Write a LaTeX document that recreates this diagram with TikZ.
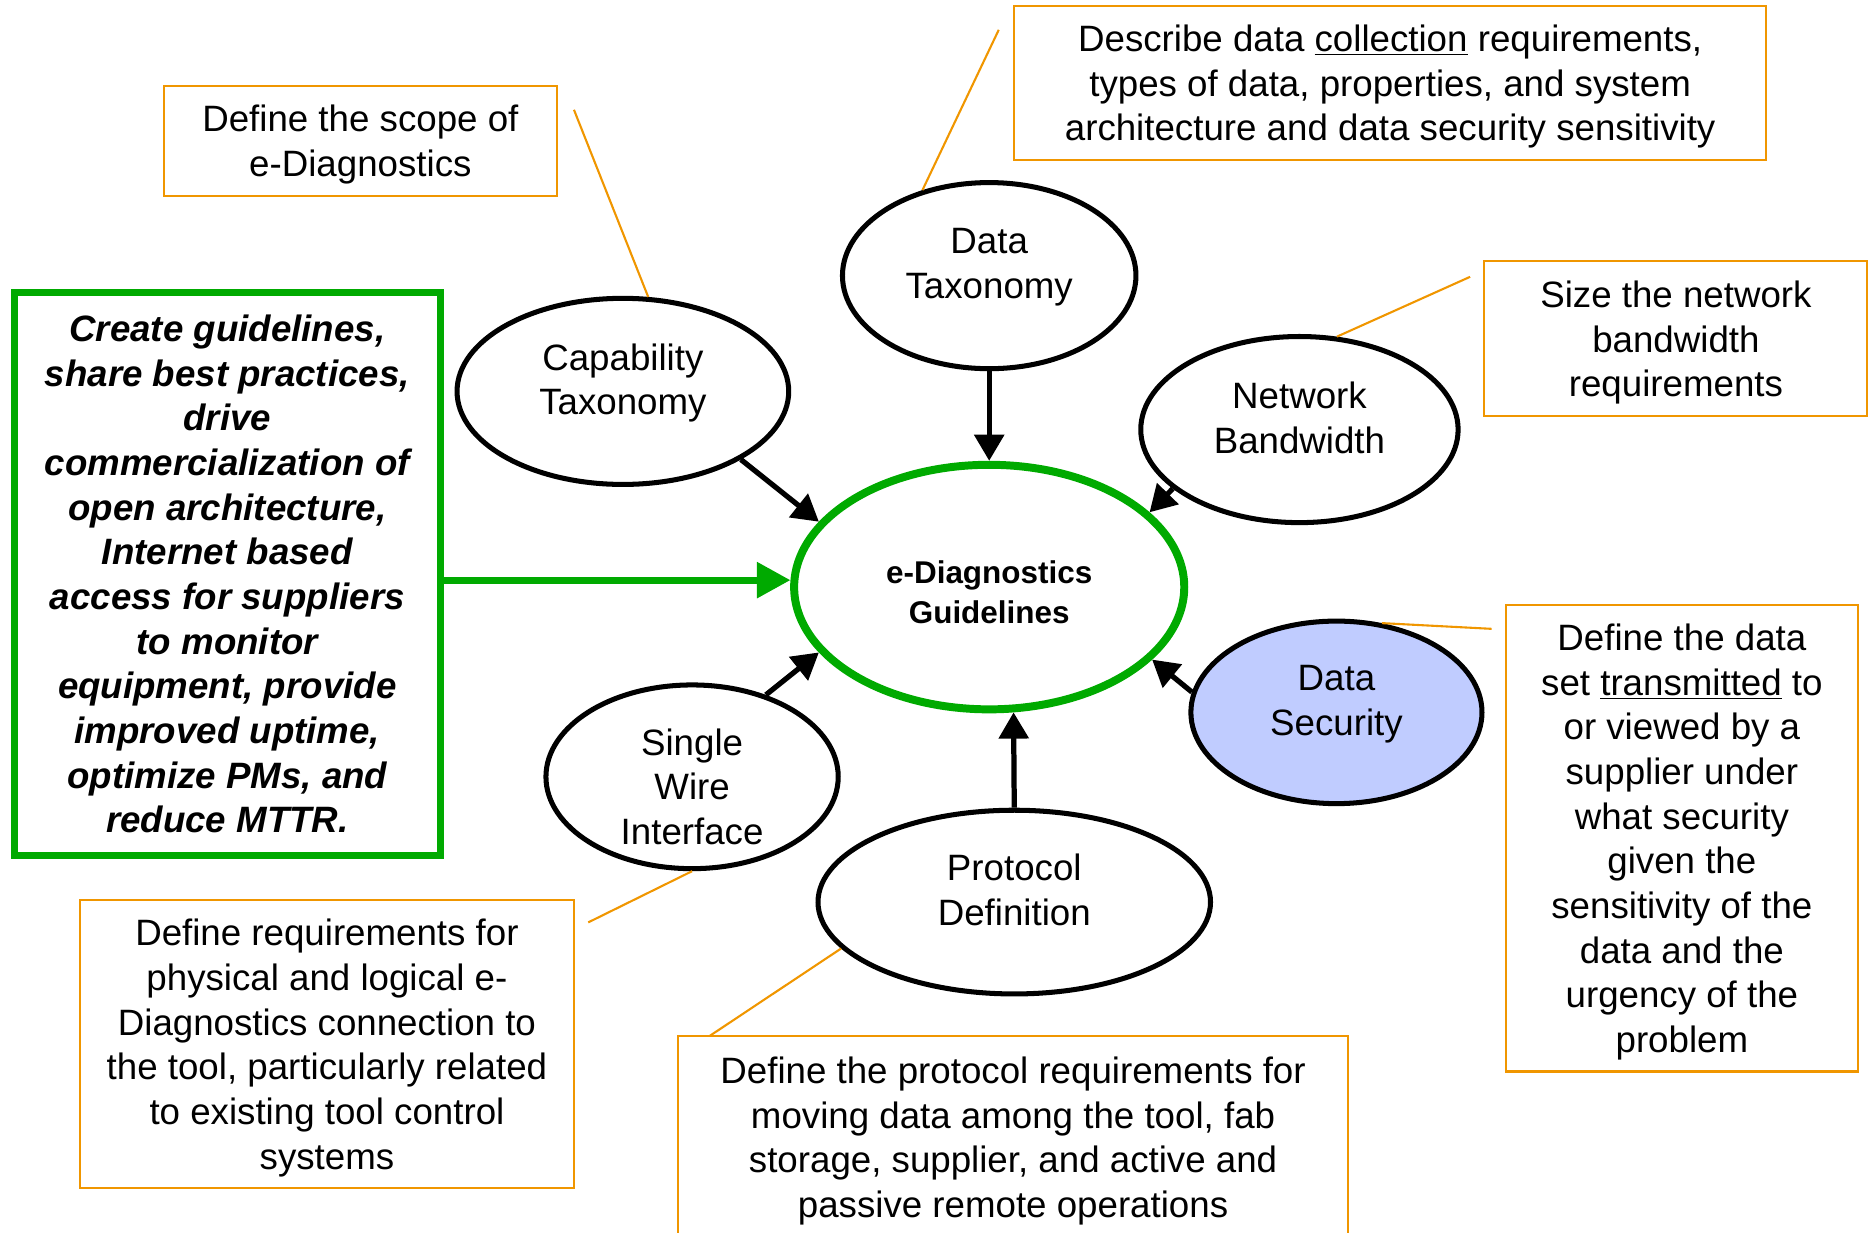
\documentclass[tikz,border=0pt]{standalone}
\usepackage{fontspec}
\setmainfont{Liberation Sans}
\usepackage{tikz}
\usetikzlibrary{shapes.geometric,arrows.meta}
\definecolor{gdgreen}{RGB}{0,170,0}
\definecolor{noteorange}{RGB}{240,150,0}
\definecolor{secblue}{RGB}{192,204,255}
\tikzstyle{bubble}=[ellipse,draw=black,line width=2.4pt,inner sep=0pt]
\tikzstyle{bubbletext}=[align=center,inner sep=0pt,font=\fontsize{17.5}{21.3}\selectfont]
\tikzstyle{note}=[rectangle,draw=noteorange,line width=1pt,inner sep=0pt,text depth=-1.4pt,align=center,font=\fontsize{17.5}{21.3}\selectfont]
\tikzstyle{goal}=[rectangle,draw=gdgreen,line width=3.3pt,inner sep=0pt,align=center,font=\bfseries\itshape\fontsize{17.5}{21.3}\selectfont]
\tikzstyle{feed}=[draw,line width=2.5pt,-{Triangle[length=12.5pt,width=14pt]}]
\tikzstyle{lead}=[draw=noteorange,line width=1pt]

\begin{document}
\begin{tikzpicture}[x=0.02cm,y=-0.02cm]
  \useasboundingbox (0,0) rectangle (1568,1033);

  % the ellipses round the guidelines
  \foreach \pos/\w/\h/\col/\dy/\nm/\txt in {
    {(522,328)/5.56/3.12/white/4/cap/{Capability\\Taxonomy}},
    {(829,231)/4.92/3.12/white/4/dtax/{Data\\Taxonomy}},
    {(1089,360)/5.32/3.12/white/5.7/net/{Network\\Bandwidth}},
    {(1120,597)/4.88/3.06/secblue/4/sec/{Data\\Security}},
    {(850,756)/6.58/3.08/white/5.7/prot/{Protocol\\Definition}},
    {(580,651)/4.90/3.08/white/-4.8/wire/{Single\\Wire\\Interface}}}
    \node[bubble,minimum width=\w cm,minimum height=\h cm,fill=\col,
      label={[bubbletext,yshift=\dy pt,name=\nm-t]center:\txt}] (\nm) at \pos {};

  \node[bubble,draw=gdgreen,line width=3.8pt,minimum width=6.54cm,minimum height=4.1cm,
    label={[bubbletext,font=\bfseries\fontsize{15}{18.8}\selectfont,yshift=-2.5pt,name=guide-t]center:e-Diagnostics\\Guidelines}]
    (guide) at (829,492) {};

  % notes
  \node[note,minimum width=6.58cm,minimum height=1.84cm] (scope) at (302,118)
    {Define the scope of\\e-Diagnostics};
  \node[note,minimum width=12.6cm,minimum height=2.58cm] (coll) at (1165,69.5)
    {Describe data \underline{collection} requirements,\\types of data, properties, and system\\architecture and data security sensitivity};
  \node[note,minimum width=6.42cm,minimum height=2.6cm] (netreq) at (1404.5,284)
    {Size the network\\bandwidth\\requirements};
  \node[note,minimum width=5.9cm,minimum height=7.82cm] (setreq) at (1409.5,702.5)
    {Define the data\\set \underline{transmitted} to\\or viewed by a\\supplier under\\what security\\given the\\sensitivity of the\\data and the\\urgency of the\\problem};
  \node[note,minimum width=11.24cm,minimum height=3.4cm] (protreq) at (849,953)
    {Define the protocol requirements for\\moving data among the tool, fab\\storage, supplier, and active and\\passive remote operations};
  \node[note,minimum width=8.28cm,minimum height=4.84cm] (wirereq) at (274,875)
    {Define requirements for\\physical and logical e-\\Diagnostics connection to\\the tool, particularly related\\to existing tool control\\systems};
  \node[goal,minimum width=7.14cm,minimum height=9.44cm] (aim) at (190.5,481)
    {Create guidelines,\\share best practices,\\drive\\commercialization of\\open architecture,\\Internet based\\access for suppliers\\to monitor\\equipment, provide\\improved uptime,\\optimize PMs, and\\reduce MTTR.};

  % arrows into the guidelines
  \path[feed] (cap.-30) -- (guide.159);
  \path[feed] (dtax.south) -- (guide.north);
  \path[feed] (net.205) -- (guide.25);
  \path[feed] (sec.172) -- (guide.-24);
  \path[feed] (prot.north) -- (guide.-79);
  \path[feed] (wire.48) -- (guide.201);
  \draw[gdgreen,line width=3.4pt,-{Triangle[length=16pt,width=16.5pt]}] (aim.east |- guide.178.3) -- (guide.178.3);

  % leader lines from the notes
  \coordinate (scopeTip) at (481,92);
  \coordinate (collTip) at (837,25);
  \coordinate (netTip) at (1232,232);
  \coordinate (setTip) at (1250,527);
  \coordinate (wireTip) at (493,773);
  \coordinate (protTip) at (595,868);
  \path[lead] (scopeTip) -- (cap.75);
  \path[lead] (collTip) -- (dtax.128);
  \path[lead] (netTip) -- (net.68);
  \path[lead] (setTip) -- (sec.63);
  \path[lead] (wireTip) -- (wire.south);
  \path[lead] (protTip) -- (prot.195.5);
\end{tikzpicture}
\end{document}
